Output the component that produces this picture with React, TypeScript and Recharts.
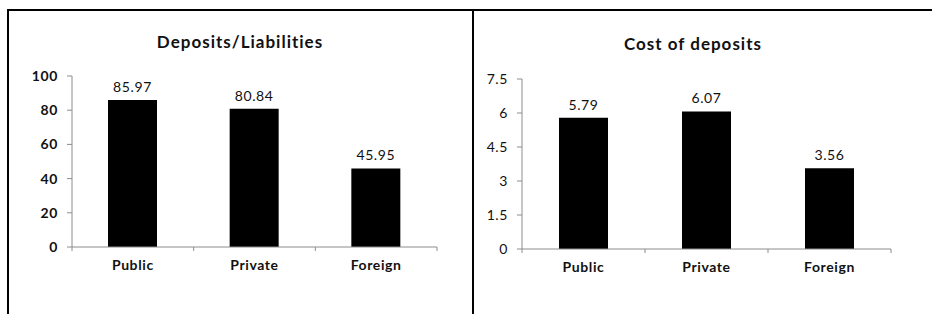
import React from "react";
import { BarChart, Bar, XAxis, YAxis, LabelList } from "recharts";

const categories = ["Public", "Private", "Foreign"];
const depositsLiabilities = [85.97, 80.84, 45.95];
const costOfDeposits = [5.79, 6.07, 3.56];
const leftTicks = [0, 20, 40, 60, 80, 100];
const rightTicks = [0, 1.5, 3, 4.5, 6, 7.5];

const leftData = categories.map((name, i) => ({ name, value: depositsLiabilities[i] }));
const rightData = categories.map((name, i) => ({ name, value: costOfDeposits[i] }));

const AXIS = "#8c8c8c";
const FONT = "Lato, 'Open Sans', sans-serif";

function makeCatTick(band: number, count: number) {
  return function CatTick(props: any) {
    const { x, y, payload, index } = props;
    const half = band / 2;
    return (
      <g>
        <line x1={x - half} y1={y} x2={x - half} y2={y + 4} stroke={AXIS} />
        {index === count - 1 && <line x1={x + half} y1={y} x2={x + half} y2={y + 4} stroke={AXIS} />}
        <text x={x} y={y + 23} textAnchor="middle" fontSize={14} fontWeight={700} letterSpacing={0.6} fill="#111">
          {payload.value}
        </text>
      </g>
    );
  };
}

interface PanelProps {
  data: { name: string; value: number }[];
  ticks: number[];
  width: number;
  height: number;
  margin: { top: number; right: number; bottom: number; left: number };
  yBold: boolean;
}

function Panel({ data, ticks, width, height, margin, yBold }: PanelProps) {
  const yWidth = 40;
  const plotW = width - margin.left - margin.right - yWidth;
  const Tick = makeCatTick(plotW / data.length, data.length);
  return (
    <BarChart width={width} height={height} data={data} margin={margin}>
      <XAxis
        dataKey="name"
        height={30}
        stroke={AXIS}
        tickLine={false}
        tickSize={0}
        tickMargin={0}
        tick={<Tick />}
        interval={0}
      />
      <YAxis
        width={yWidth}
        domain={[ticks[0], ticks[ticks.length - 1]]}
        ticks={ticks}
        interval={0}
        stroke={AXIS}
        tickSize={5}
        tickMargin={9}
        tick={{ fontSize: 14, fontWeight: yBold ? 700 : 400, fill: "#111", letterSpacing: 0.6 }}
      />
      <Bar dataKey="value" fill="#000" barSize={49} isAnimationActive={false}>
        <LabelList dataKey="value" position="top" offset={8} fontSize={14} letterSpacing={0.6} fill="#111" />
      </Bar>
    </BarChart>
  );
}

export default function App() {
  return (
    <div style={{ position: "absolute", left: 0, top: 0, width: 932, height: 314, background: "#fff", fontFamily: FONT }}>
      <div style={{ position: "absolute", left: 7, top: 9, width: 925, height: 2, background: "#000" }} />
      <div style={{ position: "absolute", left: 7, top: 9, width: 2, height: 305, background: "#000" }} />
      <div style={{ position: "absolute", left: 472, top: 9, width: 2, height: 305, background: "#000" }} />

      <div style={{ position: "absolute", left: 40, top: 31, width: 400, textAlign: "center", fontSize: 17, fontWeight: 700, letterSpacing: 1, color: "#111" }}>
        Deposits/Liabilities
      </div>
      <div style={{ position: "absolute", left: 493, top: 33, width: 400, textAlign: "center", fontSize: 17, fontWeight: 700, letterSpacing: 1, color: "#111" }}>
        Cost of deposits
      </div>

      <div style={{ position: "absolute", left: 9, top: 11 }}>
        <Panel data={leftData} ticks={leftTicks} width={464} height={303} margin={{ top: 65, right: 36, bottom: 37, left: 23 }} yBold />
      </div>
      <div style={{ position: "absolute", left: 474, top: 11 }}>
        <Panel data={rightData} ticks={rightTicks} width={458} height={303} margin={{ top: 68, right: 41, bottom: 35, left: 8 }} yBold={false} />
      </div>
    </div>
  );
}
